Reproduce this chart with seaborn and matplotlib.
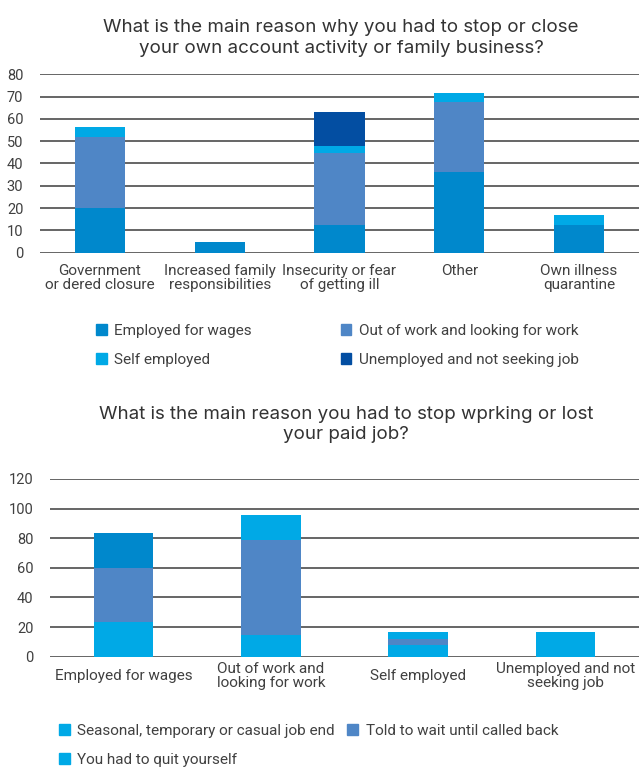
import matplotlib
matplotlib.use("Agg")
import matplotlib.pyplot as plt
from matplotlib.patches import Patch
import numpy as np
import seaborn as sns

# --- Chart 1: reasons for stopping own-account activity / family business ---
reasons = ["Government\nor dered closure", "Increased family\nresponsibilities",
           "Insecurity or fear\nof getting ill", "Other", "Own illness\nquarantine"]
employed_wages = [20, 5, 12.5, 36, 12.5]
out_of_work = [32, 0, 32, 31.5, 0]
self_employed = [4.5, 0, 3.5, 4, 4.5]
unemployed_not_seeking = [0, 0, 15, 0, 0]

# --- Chart 2: reasons for stopping work / losing a paid job ---
groups = ["Employed for wages", "Out of work and\nlooking for work",
          "Self employed", "Unemployed and not\nseeking job"]
seasonal_end = [23.5, 14.5, 8, 16.7]
told_to_wait = [36.5, 64.5, 4, 0]
quit_yourself = [23.7, 17, 4.7, 0]

C_WAGES = "#0088CC"
C_OUT = "#4F86C6"
C_SELF = "#00A9E6"
C_UNEMP = "#034EA2"
GRID = "#595959"
TEXT = "#404040"

sns.set_theme(style="white")
plt.rcParams["font.family"] = ["Roboto", "DejaVu Sans"]

W, H = 639, 771
fig = plt.figure(figsize=(W / 100, H / 100), dpi=100)


def axes_px(left, top, right, bottom):
    return fig.add_axes([left / W, 1 - bottom / H, (right - left) / W, (bottom - top) / H])


def style_axes(ax, ymax, step, ypad):
    ax.set_ylim(0, ymax)
    ax.set_yticks(np.arange(0, ymax + 1, step))
    ax.yaxis.grid(True, color=GRID, linewidth=1.3)
    ax.set_axisbelow(True)
    for s in ax.spines.values():
        s.set_visible(False)
    ax.set_xlabel("")
    ax.set_ylabel("")
    ax.tick_params(axis="both", length=0, colors=TEXT, labelsize=10.5)
    ax.tick_params(axis="x", labelsize=11)
    ax.tick_params(axis="y", pad=ypad)


def stacked(ax, cats, series, colors, width):
    bottom = np.zeros(len(cats))
    for vals, col in zip(series, colors):
        vals = np.asarray(vals, dtype=float)
        sns.barplot(x=cats, y=vals, bottom=bottom, color=col, width=width,
                    ax=ax, saturation=1, linewidth=0, edgecolor="none")
        bottom = bottom + vals


# Top chart
ax1 = axes_px(40, 74.3, 639, 252.7)
stacked(ax1, reasons,
        [employed_wages, out_of_work, self_employed, unemployed_not_seeking],
        [C_WAGES, C_OUT, C_SELF, C_UNEMP], 0.42)
ax1.set_xlim(-0.5, len(reasons) - 0.5)
style_axes(ax1, 80, 10, 12)
ax1.tick_params(axis="x", pad=8)
for lbl in ax1.get_xticklabels():
    lbl.set_linespacing(1.0)

fig.text(0.534, 0.975, "What is the main reason why you had to stop or close\n"
         "your own account activity or family business?",
         ha="center", va="top", fontsize=13.5, color="#333333",
         family=["Inter", "DejaVu Sans"], linespacing=1.3)

fig.legend(
    handles=[Patch(color=C_WAGES, label="Employed for wages"),
             Patch(color=C_SELF, label="Self employed"),
             Patch(color=C_OUT, label="Out of work and looking for work"),
             Patch(color=C_UNEMP, label="Unemployed and not seeking job")],
    ncol=2, loc="upper left", bbox_to_anchor=(90 / W, 1 - 318 / H),
    frameon=False, fontsize=11, handlelength=0.7, handleheight=0.7,
    handletextpad=0.5, columnspacing=5.8, labelspacing=0.95, borderaxespad=0,
    labelcolor=TEXT)

# Bottom chart
ax2 = axes_px(50, 479, 639, 656.7)
stacked(ax2, groups, [seasonal_end, told_to_wait, quit_yourself],
        [C_SELF, C_OUT, C_SELF], 0.405)
# the wage-earner group's "quit" segment is drawn in the darker blue
ax2.containers[-1][0].set_facecolor(C_WAGES)
ax2.set_xlim(-0.5, len(groups) - 0.5)
style_axes(ax2, 120, 20, 12)
ax2.tick_params(axis="x", pad=14)
for lbl in ax2.get_xticklabels():
    lbl.set_verticalalignment("center")
    lbl.set_linespacing(1.0)

fig.text(0.542, 0.474, "What is the main reason you had to stop wprking or lost\n"
         "your paid job?",
         ha="center", va="top", fontsize=13.5, color="#333333",
         family=["Inter", "DejaVu Sans"], linespacing=1.3)

fig.legend(
    handles=[Patch(color=C_SELF, label="Seasonal, temporary or casual job end"),
             Patch(color=C_SELF, label="You had to quit yourself"),
             Patch(color=C_OUT, label="Told to wait until called back")],
    ncol=2, loc="upper left", bbox_to_anchor=(53 / W, 1 - 718 / H),
    frameon=False, fontsize=11, handlelength=0.7, handleheight=0.7,
    handletextpad=0.5, columnspacing=0.8, labelspacing=0.95, borderaxespad=0,
    labelcolor=TEXT)

fig.savefig("out.png", dpi=100, facecolor="white")
